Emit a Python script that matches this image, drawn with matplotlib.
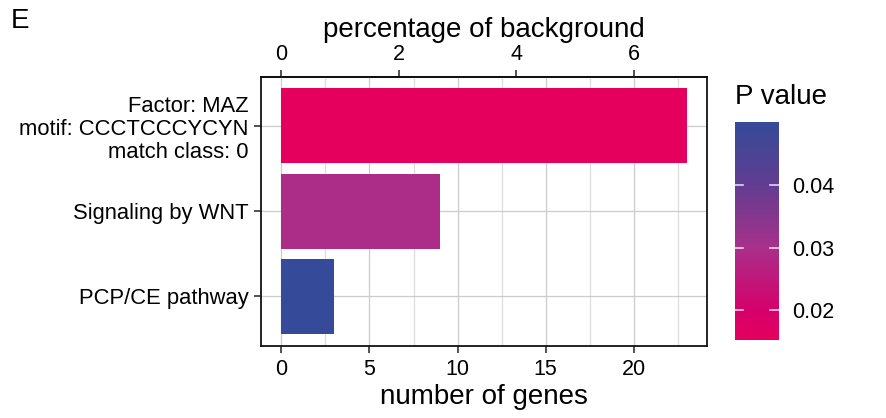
import matplotlib
matplotlib.use("Agg")
import matplotlib.pyplot as plt
from matplotlib.colors import LinearSegmentedColormap, Normalize
from matplotlib.cm import ScalarMappable
from matplotlib.ticker import MultipleLocator

plt.rcParams['font.family'] = ['Liberation Sans', 'DejaVu Sans']

# data, bottom to top
terms = ["PCP/CE pathway", "Signaling by WNT",
         "Factor: MAZ\nmotif: CCCTCCCYCYN\nmatch class: 0"]
gene_counts = [3, 9, 23]
p_values = [0.0500, 0.0295, 0.0153]
genes_per_percent = 20 / 6  # 6 % of background == 20 genes

p_min, p_max = 0.0153, 0.0500
cbar_ticks = [0.02, 0.03, 0.04]

cmap = LinearSegmentedColormap.from_list(
    "pval",
    [(0.0, "#E4005C"), (0.135, "#D6006C"), (0.424, "#A8308A"),
     (0.712, "#613D91"), (1.0, "#354A98")])
norm = Normalize(vmin=p_min, vmax=p_max)

fig = plt.figure(figsize=(8.86, 4.18), dpi=100)
ax = fig.add_axes([0.2946, 0.1722, 0.5034, 0.6435])

ypos = list(range(len(terms)))
ax.barh(ypos, gene_counts, height=0.88, color=cmap(norm(p_values)),
        linewidth=0, zorder=2)

ax.set_xlim(-1.15, 24.15)
ax.set_ylim(-0.58, 2.57)
ax.set_yticks(ypos)
ax.set_yticklabels(terms, fontsize=15.8, linespacing=1.15)
ax.xaxis.set_major_locator(MultipleLocator(5))
ax.xaxis.set_minor_locator(MultipleLocator(2.5))
ax.tick_params(axis='x', which='major', labelsize=15.5, length=5, width=1.1,
               direction='out', color='#222222', pad=4)
ax.tick_params(axis='x', which='minor', length=0)
ax.tick_params(axis='y', length=5, width=1.1, direction='out',
               color='#222222', pad=4)
ax.grid(which='major', axis='both', color='#CCCCCC', linewidth=0.9, zorder=0)
ax.grid(which='minor', axis='x', color='#DDDDDD', linewidth=0.9, zorder=0)
ax.set_axisbelow(True)
for s in ax.spines.values():
    s.set_linewidth(1.3)
    s.set_color('#111111')
ax.set_xlabel("number of genes", fontsize=20, labelpad=3)

top = ax.secondary_xaxis('top', functions=(lambda x: x / genes_per_percent,
                                           lambda x: x * genes_per_percent))
top.set_xticks([0, 2, 4, 6])
top.tick_params(labelsize=15.5, length=5, width=1.1, color='#222222', pad=4)
top.spines['top'].set_linewidth(1.3)
top.set_xlabel("percentage of background", fontsize=20, labelpad=5)

fig.text(0.012, 0.98, "E", fontsize=20, va='top', ha='left')

# colour bar
cax = fig.add_axes([0.8292, 0.1866, 0.0497, 0.5222])
sm = ScalarMappable(norm=norm, cmap=cmap)
cb = fig.colorbar(sm, cax=cax, ticks=cbar_ticks)
cb.outline.set_visible(False)
cax.tick_params(labelsize=15.5, length=0, pad=10)
cax.set_yticklabels(["0.02", "0.03", "0.04"])
for t in cbar_ticks:
    cax.plot([0, 0.2], [t, t], color='white', lw=1.2, alpha=0.8)
    cax.plot([0.8, 1.0], [t, t], color='white', lw=1.2, alpha=0.8)
cax.set_xlim(0, 1)
fig.text(0.8292, 0.768, "P value", fontsize=20, ha='left', va='center')

fig.savefig("out.png", dpi=100)
